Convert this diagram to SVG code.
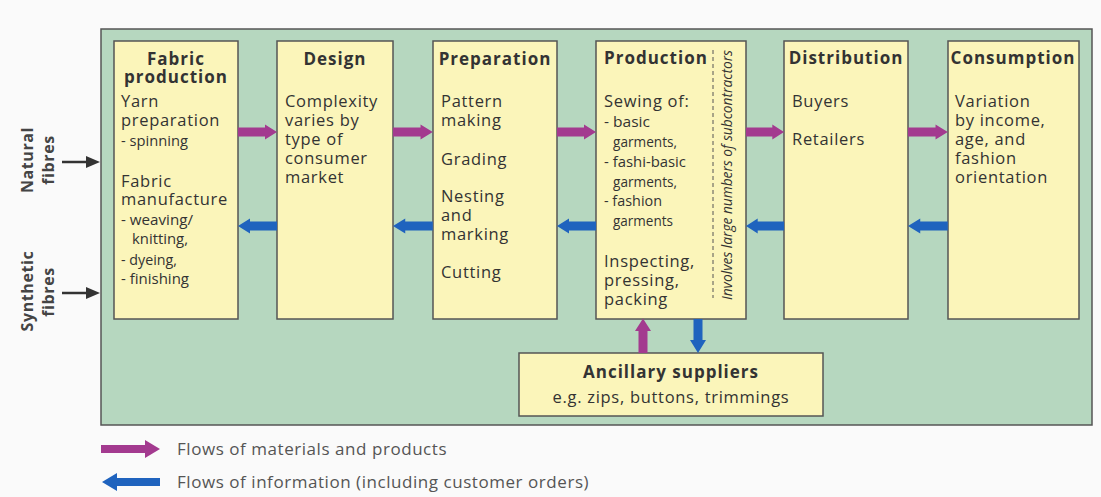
<svg xmlns="http://www.w3.org/2000/svg" width="1101" height="497" viewBox="0 0 1101 497">
<style>
text{font-family:"Open Sans","Noto Sans","DejaVu Sans",sans-serif;fill:#333;}
.t{font-size:17px;font-weight:bold;letter-spacing:1px;}
.b{font-size:16.5px;letter-spacing:0.7px;}
.s{font-size:15px;}
.box{fill:#FBF5BA;stroke:#555;stroke-width:1.5;}
.lg{font-size:17px;fill:#555;letter-spacing:0.55px;}
.fib{font-size:16px;font-weight:bold;fill:#444;letter-spacing:0.6px;}
</style>
<defs>
<path id="mag" d="M0,-4.5 H27 V-7.5 L39,0 L27,7.5 V4.5 H0 Z" fill="#A33A8F"/>
<path id="blu" d="M0,0 L12,-7.5 V-4.5 H39 V4.5 H12 V7.5 Z" fill="#1F63BE"/>
</defs>
<rect x="0" y="0" width="1101" height="497" fill="#FAFAFA"/>
<rect id="panel" x="101" y="29" width="991" height="396" fill="#B6D7BF" stroke="#555" stroke-width="1.5"/>

<g id="inputs">
<text class="fib" transform="translate(33,160) rotate(-90)" text-anchor="middle">Natural</text>
<text class="fib" transform="translate(54,160) rotate(-90)" text-anchor="middle">fibres</text>
<text class="fib" transform="translate(33,291) rotate(-90)" text-anchor="middle">Synthetic</text>
<text class="fib" transform="translate(54,292) rotate(-90)" text-anchor="middle">fibres</text>
</g>

<g id="fabric">
<rect class="box" x="114" y="41" width="124" height="278"/>
<text class="t" x="176" y="65" text-anchor="middle">Fabric</text>
<text class="t" x="176" y="83" text-anchor="middle">production</text>
<text class="b" x="121" y="107">Yarn</text>
<text class="b" x="121" y="126">preparation</text>
<text class="s" x="121" y="146" textLength="67" lengthAdjust="spacingAndGlyphs">- spinning</text>
<text class="b" x="121" y="187">Fabric</text>
<text class="b" x="121" y="205">manufacture</text>
<text class="s" x="121" y="225" textLength="72" lengthAdjust="spacingAndGlyphs">- weaving/</text>
<text class="s" x="132" y="244" textLength="56" lengthAdjust="spacingAndGlyphs">knitting,</text>
<text class="s" x="121" y="265" textLength="56" lengthAdjust="spacingAndGlyphs">- dyeing,</text>
<text class="s" x="121" y="284" textLength="68" lengthAdjust="spacingAndGlyphs">- finishing</text>
</g>

<g id="design">
<rect class="box" x="277" y="41" width="116" height="278"/>
<text class="t" x="335" y="65" text-anchor="middle">Design</text>
<text class="b" x="285" y="107">Complexity</text>
<text class="b" x="285" y="126">varies by</text>
<text class="b" x="285" y="145">type of</text>
<text class="b" x="285" y="164">consumer</text>
<text class="b" x="285" y="183">market</text>
</g>

<g id="preparation">
<rect class="box" x="433" y="41" width="124" height="278"/>
<text class="t" x="495" y="65" text-anchor="middle">Preparation</text>
<text class="b" x="441" y="107">Pattern</text>
<text class="b" x="441" y="126">making</text>
<text class="b" x="441" y="165">Grading</text>
<text class="b" x="441" y="202">Nesting</text>
<text class="b" x="441" y="221">and</text>
<text class="b" x="441" y="240">marking</text>
<text class="b" x="441" y="278">Cutting</text>
</g>

<g id="production">
<rect class="box" x="596" y="41" width="150" height="278"/>
<text class="t" x="604" y="64">Production</text>
<line x1="713" y1="50" x2="713" y2="298" stroke="#555" stroke-width="1" stroke-dasharray="4,3"/>
<text class="s" transform="translate(732,300) rotate(-90)" font-style="italic" textLength="250" lengthAdjust="spacingAndGlyphs">Involves large numbers of subcontractors</text>
<text class="b" x="604" y="107">Sewing of:</text>
<text class="s" x="604" y="127" textLength="46" lengthAdjust="spacingAndGlyphs">- basic</text>
<text class="s" x="613" y="147" textLength="64" lengthAdjust="spacingAndGlyphs">garments,</text>
<text class="s" x="604" y="167" textLength="82" lengthAdjust="spacingAndGlyphs">- fashi-basic</text>
<text class="s" x="613" y="187" textLength="64" lengthAdjust="spacingAndGlyphs">garments,</text>
<text class="s" x="604" y="206" textLength="58" lengthAdjust="spacingAndGlyphs">- fashion</text>
<text class="s" x="613" y="226" textLength="60" lengthAdjust="spacingAndGlyphs">garments</text>
<text class="b" x="604" y="267">Inspecting,</text>
<text class="b" x="604" y="286">pressing,</text>
<text class="b" x="604" y="305">packing</text>
</g>

<g id="distribution">
<rect class="box" x="784" y="41" width="124" height="278"/>
<text class="t" x="846" y="64" text-anchor="middle">Distribution</text>
<text class="b" x="792" y="107">Buyers</text>
<text class="b" x="792" y="145">Retailers</text>
</g>

<g id="consumption">
<rect class="box" x="948" y="41" width="131" height="278"/>
<text class="t" x="1013" y="64" text-anchor="middle">Consumption</text>
<text class="b" x="955" y="107">Variation</text>
<text class="b" x="955" y="126">by income,</text>
<text class="b" x="955" y="145">age, and</text>
<text class="b" x="955" y="164">fashion</text>
<text class="b" x="955" y="183">orientation</text>
</g>

<g id="ancillary">
<rect class="box" x="519" y="353" width="304" height="63"/>
<text class="t" x="671" y="378" text-anchor="middle">Ancillary suppliers</text>
<text class="b" x="671" y="403" text-anchor="middle">e.g. zips, buttons, trimmings</text>
</g>

<g id="connectors">
<line x1="62" y1="162" x2="90" y2="162" stroke="#333" stroke-width="2.5"/>
<path d="M86,156 L100,162 L86,168 Z" fill="#333"/>
<line x1="62" y1="293" x2="90" y2="293" stroke="#333" stroke-width="2.5"/>
<path d="M86,287 L100,293 L86,299 Z" fill="#333"/>
<use href="#mag" transform="translate(238,132)"/>
<use href="#mag" transform="translate(393,132) scale(1.02,1)"/>
<use href="#mag" transform="translate(557,132)"/>
<use href="#mag" transform="translate(746,132) scale(0.975,1)"/>
<use href="#mag" transform="translate(908,132) scale(1.02,1)"/>
<use href="#blu" transform="translate(238,226)"/>
<use href="#blu" transform="translate(393,226) scale(1.02,1)"/>
<use href="#blu" transform="translate(557,226)"/>
<use href="#blu" transform="translate(746,226) scale(0.975,1)"/>
<use href="#blu" transform="translate(908,226) scale(1.02,1)"/>
<path d="M638.5,353 V331 H635 L643,318.5 L651,331 H647.5 V353 Z" fill="#A33A8F"/>
<path d="M693.5,319 V340 H690 L698,353 L706,340 H702.5 V319 Z" fill="#1F63BE"/>
</g>

<g id="legend">
<path d="M101,445 H145 V440 L160,449 L145,458 V453 H101 Z" fill="#A33A8F"/>
<path d="M102,482 L117,473 V478 H160 V486 H117 V491 Z" fill="#1F63BE"/>
<text class="lg" x="177" y="455">Flows of materials and products</text>
<text class="lg" x="177" y="488">Flows of information (including customer orders)</text>
</g>
</svg>
